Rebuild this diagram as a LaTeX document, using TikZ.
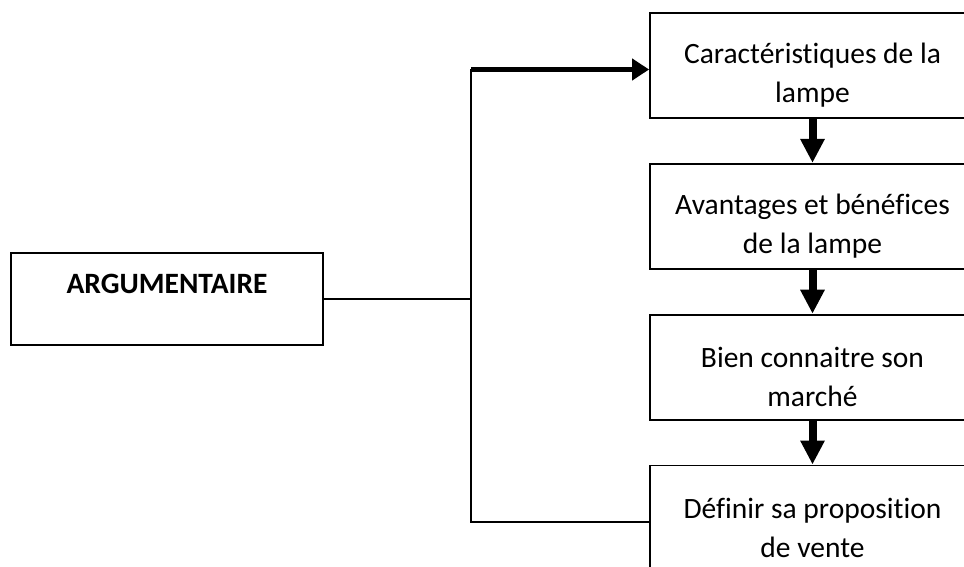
\documentclass[tikz,border=0pt]{standalone}
\usepackage{fontspec}
\setmainfont[Ligatures=NoCommon]{Carlito}
\usepackage{tikz}
\usetikzlibrary{arrows.meta, positioning}
\newcommand{\toppad}{\rule{0pt}{40pt}}

\begin{document}
\begin{tikzpicture}[x=1pt, y=-1pt,
  box/.style={draw, rectangle, line width=1.8pt, align=center, font=\fontsize{29.5pt}{39pt}\selectfont},
  stepbox/.style={box, minimum width=325pt, minimum height=105pt, inner sep=0pt},
  bigarrow/.style={-{Triangle[length=24pt, width=23pt]}, line width=8pt},
  feedline/.style={line width=2pt},
  toparrow/.style={-{Triangle[length=17pt, width=21pt]}, line width=5pt}]
  \useasboundingbox (0,0) rectangle (964,567);
  \clip (0,0) rectangle (964,567);

  % Nodes
  \node[box, minimum width=312pt, minimum height=92pt, inner sep=0pt] (arg) at (167,299) {\toppad\textbf{ARGUMENTAIRE}\\ \strut};
  \node[stepbox] (carac) at (812.5,65.5) {\toppad Caractéristiques de la\\lampe};
  \node[stepbox, below=44pt of carac] (avant) {\toppad Avantages et bénéfices\\de la lampe};
  \node[stepbox, below=44pt of avant] (marche) {\toppad Bien connaitre son\\marché};
  \node[stepbox, below=44pt of marche] (vente) {\toppad Définir sa proposition\\de vente};
  \coordinate (split) at (471,299);
  \coordinate (topin) at ([yshift=-4pt]carac.west);
  \coordinate (botin) at ([yshift=-4pt]vente.west);

  % Arrows
  \draw[feedline] (arg.east) -- (split);
  \draw[feedline] (split |- topin) -- (split) |- (botin);
  \draw[toparrow] (split |- topin) -- (topin);
  \draw[bigarrow] (carac) -- (avant);
  \draw[bigarrow] (avant) -- (marche);
  \draw[bigarrow] (marche) -- (vente);
\end{tikzpicture}
\end{document}
